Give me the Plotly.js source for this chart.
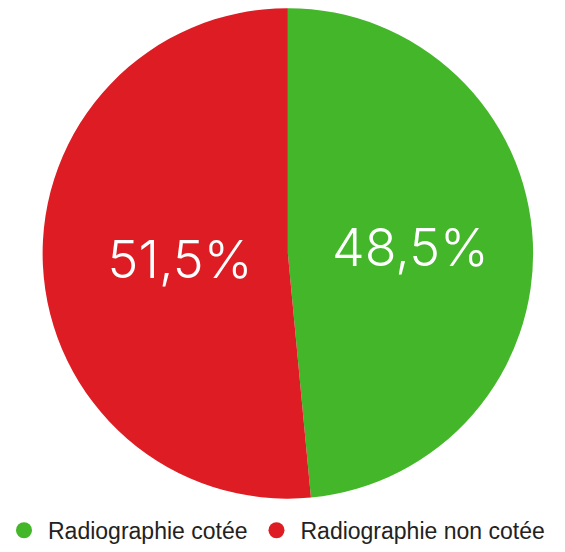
<!DOCTYPE html>
<html><head><meta charset="utf-8">
<script src="https://cdn.plot.ly/plotly-3.0.1.min.js"></script>
<style>html,body{margin:0;padding:0;background:#fff}#chart{width:565px;height:552px}</style>
</head><body><div id="chart"></div>
<script>
const labels = ["Radiographie cotée", "Radiographie non cotée"];
const values = [48.5, 51.5];
const colors = ["#43b62a", "#dd1c23"];

const pie = {
  type: "pie",
  labels: labels,
  values: values,
  sort: false,
  direction: "clockwise",
  rotation: 0,
  marker: {colors: colors, line: {width: 0}},
  texttemplate: ["%{percent:.1%}", "\u00a0\u00a0%{percent:.1%}"],
  textposition: "inside",
  insidetextorientation: "horizontal",
  textfont: {family: "Inter, 'Open Sans', sans-serif", size: 52, color: "#ffffff", weight: 300},
  hoverinfo: "none",
  showlegend: false,
  domain: {x: [0.068, 0.951], y: [0.085, 0.985]}
};

const legendTraces = labels.map((l, i) => ({
  type: "scatter", mode: "markers", x: [null], y: [null], name: l,
  marker: {color: colors[i], size: 22, symbol: "circle"},
  showlegend: true, hoverinfo: "none"
}));

const layout = {
  width: 565, height: 552,
  margin: {l: 0, r: 0, t: 0, b: 0},
  paper_bgcolor: "#fff", plot_bgcolor: "#fff",
  separators: ", ",
  xaxis: {visible: false}, yaxis: {visible: false},
  showlegend: true,
  legend: {
    orientation: "h", x: 0, xanchor: "left", y: 0.027, yanchor: "middle",
    font: {family: "'Liberation Sans', Arial, sans-serif", size: 23, color: "#222"},
    tracegroupgap: 0, itemsizing: "trace", itemwidth: 38
  }
};

Plotly.newPlot("chart", [pie, ...legendTraces], layout, {displayModeBar: false, staticPlot: true});
</script></body></html>
